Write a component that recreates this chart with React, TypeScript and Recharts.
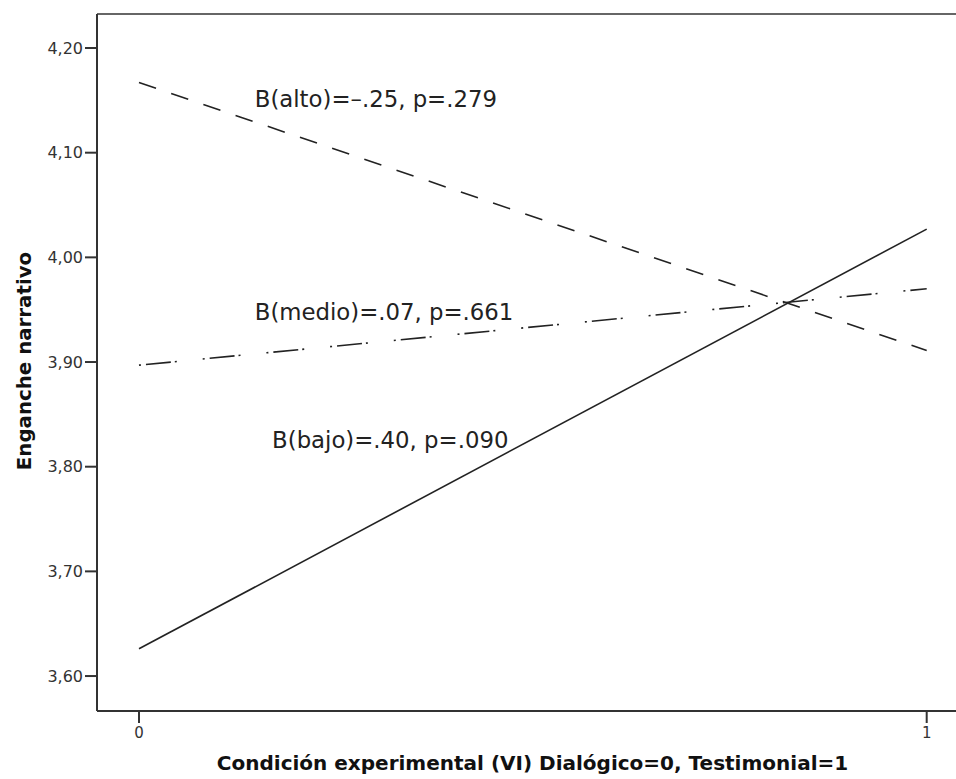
import React from "react";
import { LineChart, Line, XAxis, YAxis, ReferenceLine, ReferenceDot } from "recharts";

const conditions = [0, 1];
const alto = [4.167, 3.911];
const medio = [3.897, 3.97];
const bajo = [3.626, 4.027];

const xTicks = [0, 1];
const yTicks = [3.6, 3.7, 3.8, 3.9, 4.0, 4.1, 4.2];

const noteTexts = ["B(alto)=–.25, p=.279", "B(medio)=.07, p=.661", "B(bajo)=.40, p=.090"];
const noteX = [0.147, 0.147, 0.169];
const noteY = [4.144, 3.94, 3.818];

const X_DOMAIN: [number, number] = [-0.0533, 1.0372];
const Y_DOMAIN: [number, number] = [3.5666, 4.2325];

const data = conditions.map((c, i) => ({ c, alto: alto[i], medio: medio[i], bajo: bajo[i] }));

const font = "'DejaVu Sans', Verdana, sans-serif";
const ink = "#222";

const renderNote = (text: string) => (props: any) => {
  const vb = props.viewBox || {};
  return (
    <text x={vb.x} y={vb.y} fontFamily={font} fontSize={22.8} fill={ink} textAnchor="start">
      {text}
    </text>
  );
};

export default function App() {
  return (
    <div>
      <style>{"body{margin:0}"}</style>
      <LineChart width={956} height={779} data={data} margin={{ top: 14, right: 0, bottom: 0, left: 0 }}>
        <XAxis
          dataKey="c"
          type="number"
          domain={X_DOMAIN}
          ticks={xTicks}
          allowDataOverflow
          height={68}
          tickSize={12}
          tickMargin={4}
          stroke="#333"
          strokeWidth={2}
          tick={{ fontFamily: font, fontSize: 15, fill: "#333" }}
          label={{
            content: (p: any) => (
              <text
                x={p.viewBox.x + p.viewBox.width / 2 + 6}
                y={770}
                textAnchor="middle"
                fontFamily={font}
                fontWeight="bold"
                fontSize={20}
                fill="#111"
              >
                Condición experimental (VI) Dialógico=0, Testimonial=1
              </text>
            ),
          }}
        />
        <YAxis
          type="number"
          domain={Y_DOMAIN}
          ticks={yTicks}
          allowDataOverflow
          width={97}
          tickSize={12}
          tickMargin={2}
          stroke="#333"
          strokeWidth={2}
          tickFormatter={(v: number) => v.toFixed(2).replace(".", ",")}
          tick={{ fontFamily: font, fontSize: 16, fill: "#333" }}
          label={{
            content: () => (
              <text
                x={31}
                y={361}
                transform="rotate(-90 31 361)"
                textAnchor="middle"
                fontFamily={font}
                fontWeight="bold"
                fontSize={19.8}
                fill="#111"
              >
                Enganche narrativo
              </text>
            ),
          }}
        />
        <ReferenceLine y={Y_DOMAIN[1]} stroke="#666" strokeWidth={2} />
        <Line dataKey="alto" stroke={ink} strokeWidth={1.6} strokeDasharray="18 16" dot={false} isAnimationActive={false} />
        <Line dataKey="medio" stroke={ink} strokeWidth={1.6} strokeDasharray="2 5 25 4 2 26" dot={false} isAnimationActive={false} />
        <Line dataKey="bajo" stroke={ink} strokeWidth={1.6} dot={false} isAnimationActive={false} />
        {noteTexts.map((t, i) => (
          <ReferenceDot key={t} x={noteX[i]} y={noteY[i]} r={0} stroke="none" fill="none" label={renderNote(t)} />
        ))}
      </LineChart>
    </div>
  );
}
